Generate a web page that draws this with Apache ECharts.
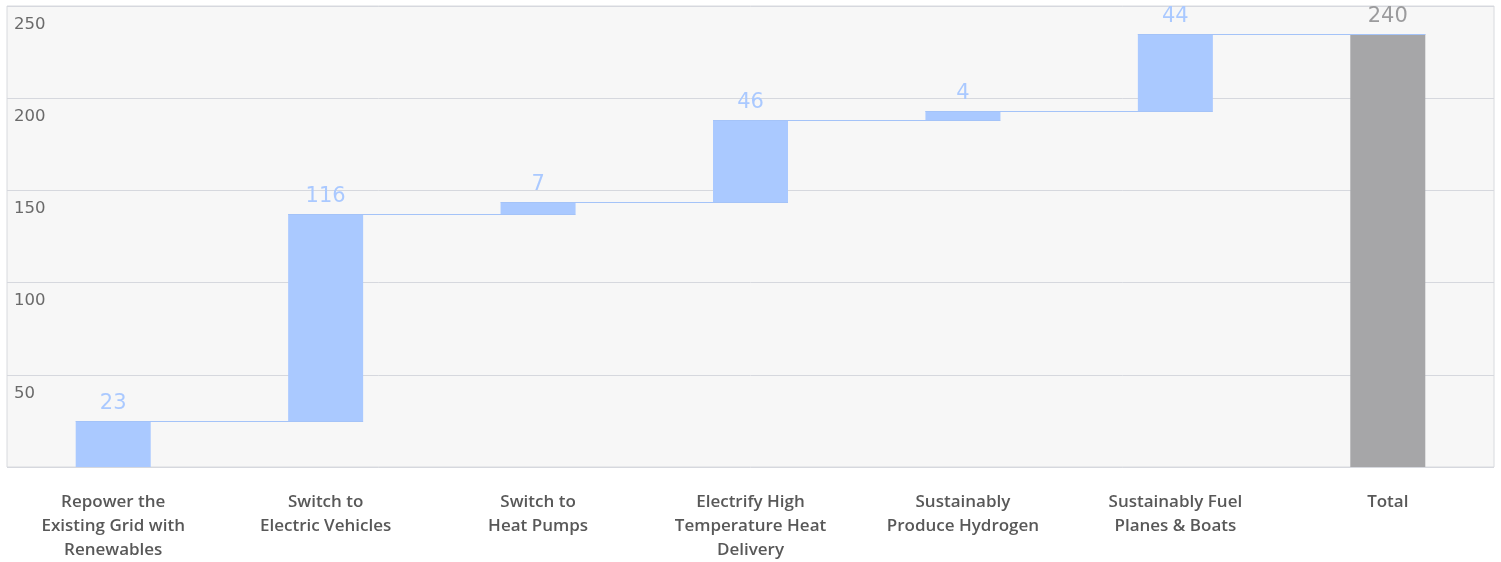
<!DOCTYPE html>
<html>
<head>
<meta charset="utf-8">
<script src="https://cdn.jsdelivr.net/npm/echarts@6/dist/echarts.min.js"></script>
<style>
html,body{margin:0;padding:0;background:#ffffff;}
#chart{width:1501px;height:562px;}
</style>
</head>
<body>
<div id="chart"></div>
<script>
// ---- data ----
const categories = [
  'Repower the\nExisting Grid with\nRenewables',
  'Switch to\nElectric Vehicles',
  'Switch to\nHeat Pumps',
  'Electrify High\nTemperature Heat\nDelivery',
  'Sustainably\nProduce Hydrogen',
  'Sustainably Fuel\nPlanes & Boats',
  'Total'
];
// step heights as drawn
const increments = [24.8, 112.3, 6.4, 44.6, 4.9, 41.8];
const totalValue = 234.8;
// value labels as printed above the bars
const valueLabels = ['23', '116', '7', '46', '4', '44', '240'];
const yTicks = [0, 50, 100, 150, 200, 250];

// ---- derived ----
const bases = [];
const tops = [];
let run = 0;
increments.forEach(v => { bases.push(run); run += v; tops.push(run); });
bases.push(0);
tops.push(totalValue);
const barValues = increments.concat([totalValue]);

const BLUE = '#aac9ff';
const GRAY = '#a6a6a8';
const FONT = '"DejaVu Sans", Verdana, sans-serif';
const XFONT = '"Open Sans", "DejaVu Sans", sans-serif';
const BAR_W = 75;

const chart = echarts.init(document.getElementById('chart'), null, {renderer: 'canvas'});
chart.setOption({
  animation: false,
  grid: {
    left: 7, right: 7, top: 6, bottom: 95,
    outerBoundsMode: 'none', containLabel: false,
    show: true, backgroundColor: '#f7f7f7', borderColor: '#d8dade', borderWidth: 1
  },
  xAxis: {
    type: 'category',
    data: categories,
    axisLine: {show: false},
    axisTick: {show: false},
    axisLabel: {
      interval: 0, margin: 23,
      fontFamily: XFONT, fontSize: 17, fontWeight: 600,
      color: '#585858', lineHeight: 24
    }
  },
  yAxis: {
    type: 'value',
    min: yTicks[0], max: yTicks[yTicks.length - 1], interval: 50,
    axisLine: {show: false},
    axisTick: {show: false},
    splitLine: {lineStyle: {color: '#d6d8de', width: 1}},
    axisLabel: {
      inside: true, showMinLabel: false, margin: 7,
      verticalAlign: 'top', padding: [10, 0, 0, 0],
      fontFamily: FONT, fontSize: 16.5,
      color: '#6a6a6a',
      formatter: v => String(v)
    }
  },
  series: [
    {
      type: 'bar',
      stack: 'w',
      data: bases,
      barWidth: BAR_W,
      z: 2,
      itemStyle: {color: 'transparent'},
      silent: true
    },
    {
      type: 'bar',
      stack: 'w',
      z: 3,
      barWidth: BAR_W,
      data: barValues.map((v, i) => ({
        value: v,
        itemStyle: {color: i === barValues.length - 1 ? GRAY : BLUE},
        label: {color: i === barValues.length - 1 ? '#9b9b9d' : BLUE}
      })),
      label: {
        show: true, position: 'top', distance: 7,
        fontFamily: FONT, fontSize: 21,
        formatter: p => valueLabels[p.dataIndex]
      }
    },
    {
      type: 'custom',
      z: 4,
      silent: true,
      data: tops.slice(0, tops.length - 1).map((t, i) => [i, t]),
      renderItem: function (params, api) {
        const i = api.value(0);
        const y = api.coord([i, api.value(1)])[1];
        const x0 = api.coord([i, 0])[0] - BAR_W / 2;
        const x1 = api.coord([i + 1, 0])[0] + BAR_W / 2;
        const yy = Math.round(y) + 0.5;
        return {
          type: 'line',
          shape: {x1: x0, y1: yy, x2: x1, y2: yy},
          style: {stroke: '#a4c3f8', lineWidth: 1}
        };
      }
    }
  ]
});
</script>
</body>
</html>
